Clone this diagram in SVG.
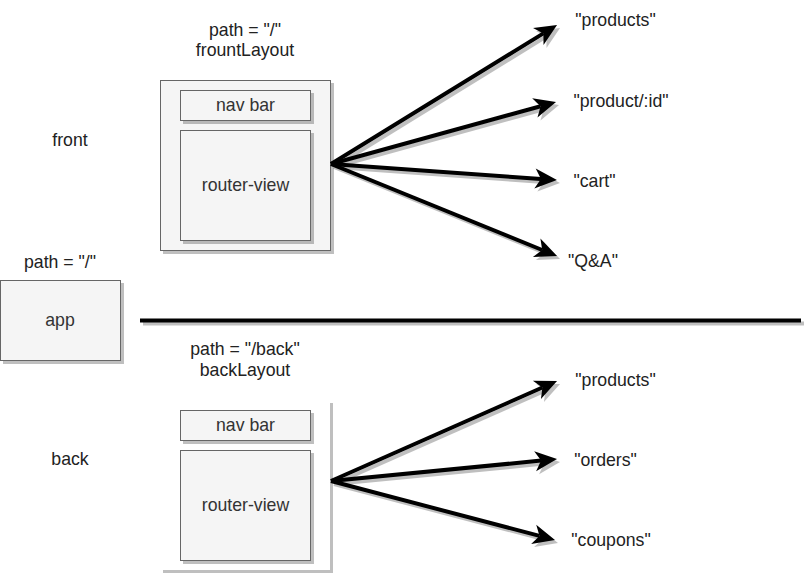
<svg xmlns="http://www.w3.org/2000/svg" width="806" height="574" viewBox="0 0 806 574">
<style>
  text { font-family: "Liberation Sans", Arial, sans-serif; font-size: 17.7px; fill: #222; text-anchor: middle; }
  .box { fill: #f5f5f5; stroke: #666; stroke-width: 1; }
  .boxtext { fill: #333; }
  .edge { stroke: #000; stroke-width: 4; fill: none; }
</style>
<defs>
  <filter id="shadow" x="-10%" y="-10%" width="130%" height="130%">
    <feDropShadow dx="3" dy="3" stdDeviation="0.6" flood-color="#000" flood-opacity="0.25"/>
  </filter>
  <marker id="arrow" markerUnits="userSpaceOnUse" markerWidth="30" markerHeight="30" viewBox="-2 -12 30 24" refX="6" refY="0" orient="auto">
    <path d="M0,-10 L22,0 L0,10 L6,0 Z" fill="#000"/>
  </marker>
</defs>

<g id="app">
  <rect class="box" x="0.5" y="280.5" width="120" height="80" filter="url(#shadow)"/>
  <text class="boxtext" x="60" y="326">app</text>
  <text x="60" y="268">path = "/"</text>
</g>

<g id="front-label"><text x="70" y="146">front</text></g>
<g id="back-label"><text x="70" y="465">back</text></g>

<g id="frontLayout">
  <text x="245" y="36">path = "/"</text>
  <text x="245" y="56">frountLayout</text>
  <rect class="box" x="160.5" y="80.5" width="170" height="170" filter="url(#shadow)"/>
  <g id="front-navbar">
    <rect class="box" x="180.5" y="90.5" width="130" height="30" filter="url(#shadow)"/>
    <text class="boxtext" x="245.5" y="111">nav bar</text>
  </g>
  <g id="front-router-view">
    <rect class="box" x="180.5" y="130.5" width="130" height="110" filter="url(#shadow)"/>
    <text class="boxtext" x="245.5" y="191">router-view</text>
  </g>
</g>

<g id="backLayout">
  <text x="245" y="355">path = "/back"</text>
  <text x="245" y="376">backLayout</text>
  <rect x="160" y="400" width="170" height="170" fill="#fff" filter="url(#shadow)"/>
  <g id="back-navbar">
    <rect class="box" x="180.5" y="410.5" width="130" height="30" filter="url(#shadow)"/>
    <text class="boxtext" x="245.5" y="431">nav bar</text>
  </g>
  <g id="back-router-view">
    <rect class="box" x="180.5" y="450.5" width="130" height="110" filter="url(#shadow)"/>
    <text class="boxtext" x="245.5" y="511">router-view</text>
  </g>
</g>

<g id="front-targets">
  <text x="615.5" y="26">"products"</text>
  <text x="621" y="107">"product/:id"</text>
  <text x="594.5" y="187">"cart"</text>
  <text x="593" y="267">"Q&amp;A"</text>
</g>
<g id="back-targets">
  <text x="615.5" y="386">"products"</text>
  <text x="605.5" y="466">"orders"</text>
  <text x="611" y="546">"coupons"</text>
</g>

<g id="connectors" filter="url(#shadow)">
  <line class="edge" x1="140" y1="320.5" x2="801" y2="320.5"/>
  <line class="edge" x1="331" y1="164" x2="543.4" y2="33.4" marker-end="url(#arrow)"/>
  <line class="edge" x1="331" y1="164" x2="540.6" y2="106.2" marker-end="url(#arrow)"/>
  <line class="edge" x1="331" y1="164" x2="541" y2="178.9" marker-end="url(#arrow)"/>
  <line class="edge" x1="331" y1="164" x2="542.2" y2="250" marker-end="url(#arrow)"/>
  <line class="edge" x1="331" y1="481" x2="542.4" y2="387.5" marker-end="url(#arrow)"/>
  <line class="edge" x1="331" y1="481" x2="541.1" y2="460.6" marker-end="url(#arrow)"/>
  <line class="edge" x1="331" y1="481" x2="539.5" y2="535.9" marker-end="url(#arrow)"/>
</g>
</svg>
